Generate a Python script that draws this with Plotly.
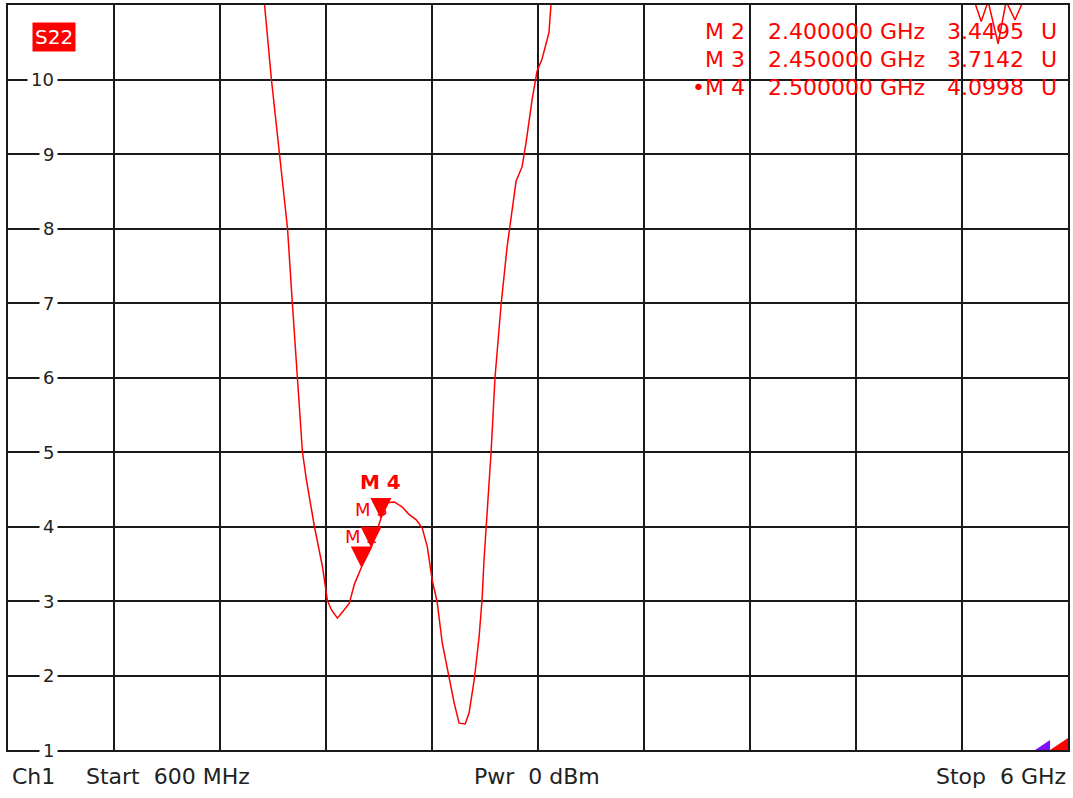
import plotly.graph_objects as go

# ---------------- data ----------------
freq_ghz = [0.6, 1.2, 1.7, 1.85, 1.907, 1.942, 1.983, 2.024, 2.049, 2.075, 2.100, 2.120,
            2.161, 2.202, 2.227, 2.248, 2.278, 2.303, 2.339, 2.364, 2.400, 2.450, 2.500,
            2.527, 2.568, 2.609, 2.644, 2.680, 2.710, 2.736, 2.761, 2.786, 2.812, 2.848,
            2.873, 2.898, 2.929, 2.949, 2.975, 3.000, 3.015, 3.025, 3.046, 3.061, 3.081,
            3.112, 3.142, 3.163, 3.188, 3.219, 3.239, 3.270, 3.295, 3.320, 3.356, 3.366,
            3.45, 4.0, 4.8, 5.4, 5.527, 5.558, 5.593, 5.644, 5.685, 5.730, 5.771, 6.0]
s22_mag = [40, 25, 15, 12.2, 11.0, 10.0, 9.0, 8.0, 6.98, 6.0, 5.0, 4.63,
           4.0, 3.46, 3.01, 2.88, 2.77, 2.85, 2.97, 3.22, 3.4495, 3.7142, 4.0998,
           4.32, 4.33, 4.26, 4.16, 4.09, 3.98, 3.73, 3.28, 2.99, 2.44, 1.98,
           1.63, 1.36, 1.35, 1.50, 1.94, 2.52, 3.02, 3.55, 4.36, 5.0, 6.0,
           6.98, 7.74, 8.16, 8.63, 8.83, 9.15, 9.73, 10.11, 10.27, 10.63, 11.0,
           12.5, 16, 15, 12, 11.0, 10.78, 11.05, 10.48, 11.05, 10.8, 11.05, 13]

marker_names = ["M 2", "M 3", "M 4"]
marker_freq_ghz = [2.40, 2.45, 2.50]
marker_vals = [3.4495, 3.7142, 4.0998]
active_marker = "M 4"

y_ticks = [1, 2, 3, 4, 5, 6, 7, 8, 9, 10]
x_start, x_stop, x_divs = 0.6, 6.0, 10
y_min, y_max = 1, 11

trace_name = "S22"
footer = {"ch": "Ch1", "start": "Start\u00a0\u00a0600 MHz", "pwr": "Pwr\u00a0\u00a00 dBm",
          "stop": "Stop\u00a0\u00a06 GHz"}

# ---------------- layout geometry ----------------
W, H = 1073, 798
L, R, T, B = 8, 3, 5, 48
PW, PH = W - L - R, H - T - B
FONT = "DejaVu Sans, Verdana, sans-serif"
RED = "#ff0000"


def px(xp):
    return (xp - L) / PW


def py(yp):
    return (H - B - yp) / PH


fig = go.Figure()

fig.add_trace(go.Scatter(x=freq_ghz, y=s22_mag, mode="lines",
                         line=dict(color=RED, width=1.5), hoverinfo="skip",
                         showlegend=False))

fig.add_trace(go.Scatter(x=marker_freq_ghz, y=marker_vals, mode="markers",
                         marker=dict(symbol="arrow-down", size=21, color=RED,
                                     line=dict(width=0)),
                         cliponaxis=False, showlegend=False, hoverinfo="skip"))

ann = []
# y tick labels drawn over grid with white background
for v in y_ticks:
    ann.append(dict(x=px(58), xref="paper", y=v, yref="y", text=str(v),
                    xanchor="right", yanchor="middle", showarrow=False,
                    bgcolor="white", borderpad=3,
                    font=dict(family=FONT, size=18, color="#222")))

# trace label
ann.append(dict(x=px(32), xref="paper", y=py(37), yref="paper", text=trace_name,
                xanchor="left", yanchor="middle", showarrow=False, bgcolor=RED,
                borderpad=2, font=dict(family=FONT, size=20, color="white")))

# marker table
row_y = [31, 59, 87]
for name, f, v, ry in zip(marker_names, marker_freq_ghz, marker_vals, row_y):
    lab = ("\u2022" + name) if name == active_marker else name
    for text, xp_, anc in [(lab, 748, "right"), (f"{f:.6f} GHz", 767, "left"),
                           (f"{v:.4f}", 1028, "right"), ("U", 1041, "left")]:
        ann.append(dict(x=px(xp_), xref="paper", y=py(ry), yref="paper", text=text,
                        xanchor=anc, yanchor="middle", showarrow=False,
                        font=dict(family=FONT, size=22, color=RED)))

# marker labels on chart
label_shift = {"M 2": 31, "M 3": 38, "M 4": 37}
for name, f, v in zip(marker_names, marker_freq_ghz, marker_vals):
    bold = name == active_marker
    ann.append(dict(x=f, xref="x", y=v, yref="y",
                    text=f"<b>{name}</b>" if bold else name,
                    xanchor="center", yanchor="middle", yshift=label_shift[name],
                    showarrow=False,
                    font=dict(family=FONT, size=20 if bold else 18, color=RED)))

# footer
for key, xp_, anc in [("ch", 10, "left"), ("start", 84, "left"), ("pwr", 473, "left"),
                      ("stop", 1070, "right")]:
    ann.append(dict(x=px(xp_), xref="paper", y=py(776), yref="paper", text=footer[key],
                    xanchor=anc, yanchor="middle", showarrow=False,
                    font=dict(family=FONT, size=22, color="#222")))

shapes = [
    dict(type="path", xref="paper", yref="paper", line=dict(width=0), fillcolor="#7f10ff",
         path=f"M{px(1037)},{py(750)} L{px(1052)},{py(750)} L{px(1052)},{py(740)} Z"),
    dict(type="path", xref="paper", yref="paper", line=dict(width=0), fillcolor=RED,
         path=f"M{px(1052)},{py(750)} L{px(1070)},{py(750)} L{px(1070)},{py(738)} Z"),
]

axis_common = dict(showgrid=True, gridcolor="#1a1a1a", gridwidth=1.5, zeroline=False,
                   showticklabels=False, ticks="", showline=True, mirror=True,
                   linecolor="#1a1a1a", linewidth=1.5, fixedrange=True)

fig.update_layout(
    width=W, height=H,
    margin=dict(l=L, r=R, t=T, b=B, pad=0),
    paper_bgcolor="white", plot_bgcolor="white",
    xaxis=dict(range=[x_start, x_stop], tick0=x_start,
               dtick=(x_stop - x_start) / x_divs, **axis_common),
    yaxis=dict(range=[y_min, y_max], dtick=1, **axis_common),
    annotations=ann, shapes=shapes, showlegend=False,
)

fig.write_html("out.html", config={"displayModeBar": False},
               post_script="document.body.style.margin='0';document.body.style.overflow='hidden';")
